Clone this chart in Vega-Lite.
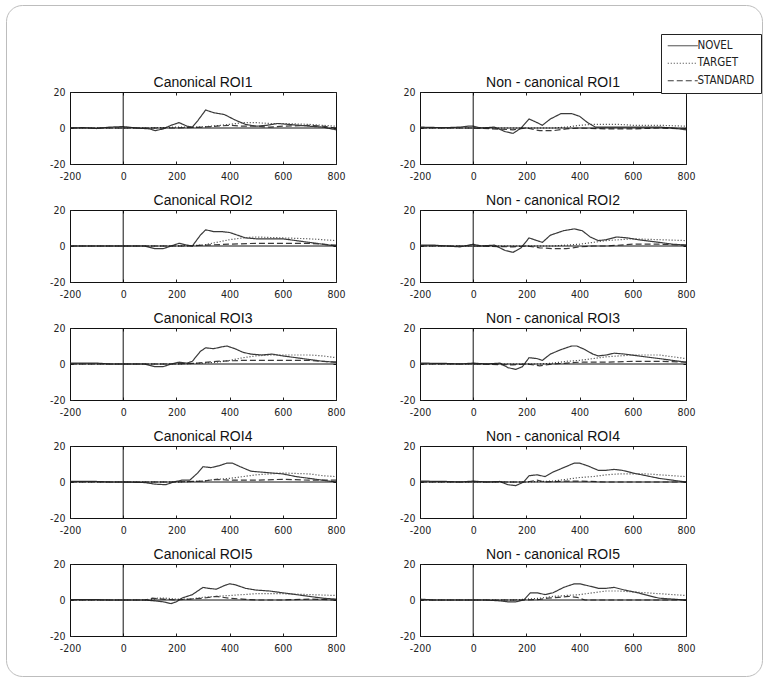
{
  "$schema": "https://vega.github.io/schema/vega-lite/v6.json",
  "padding": {"left": 5, "top": 4, "right": 0, "bottom": 0},
  "background": "white",
  "data": {"values": [
    {"p":"A1","s":"NOVEL","t":-200,"v":0},{"p":"A1","s":"NOVEL","t":-150,"v":0.2},{"p":"A1","s":"NOVEL","t":-100,"v":-0.3},{"p":"A1","s":"NOVEL","t":-50,"v":0.5},{"p":"A1","s":"NOVEL","t":0,"v":0.8},{"p":"A1","s":"NOVEL","t":50,"v":0},{"p":"A1","s":"NOVEL","t":100,"v":-0.5},{"p":"A1","s":"NOVEL","t":120,"v":-1.5},{"p":"A1","s":"NOVEL","t":150,"v":-0.5},{"p":"A1","s":"NOVEL","t":180,"v":1.5},{"p":"A1","s":"NOVEL","t":210,"v":3},{"p":"A1","s":"NOVEL","t":240,"v":1},{"p":"A1","s":"NOVEL","t":260,"v":0.5},{"p":"A1","s":"NOVEL","t":280,"v":4},{"p":"A1","s":"NOVEL","t":310,"v":10},{"p":"A1","s":"NOVEL","t":340,"v":8.5},{"p":"A1","s":"NOVEL","t":380,"v":7.5},{"p":"A1","s":"NOVEL","t":420,"v":4.5},{"p":"A1","s":"NOVEL","t":460,"v":2},{"p":"A1","s":"NOVEL","t":500,"v":1},{"p":"A1","s":"NOVEL","t":540,"v":1.5},{"p":"A1","s":"NOVEL","t":580,"v":2.5},{"p":"A1","s":"NOVEL","t":620,"v":2},{"p":"A1","s":"NOVEL","t":660,"v":1.5},{"p":"A1","s":"NOVEL","t":700,"v":1},{"p":"A1","s":"NOVEL","t":750,"v":0.5},{"p":"A1","s":"NOVEL","t":800,"v":-1},
    {"p":"A1","s":"TARGET","t":-200,"v":0},{"p":"A1","s":"TARGET","t":0,"v":0},{"p":"A1","s":"TARGET","t":100,"v":0},{"p":"A1","s":"TARGET","t":200,"v":0.5},{"p":"A1","s":"TARGET","t":280,"v":0.5},{"p":"A1","s":"TARGET","t":330,"v":1},{"p":"A1","s":"TARGET","t":400,"v":2},{"p":"A1","s":"TARGET","t":450,"v":3},{"p":"A1","s":"TARGET","t":500,"v":3},{"p":"A1","s":"TARGET","t":550,"v":2.5},{"p":"A1","s":"TARGET","t":600,"v":2.5},{"p":"A1","s":"TARGET","t":700,"v":2},{"p":"A1","s":"TARGET","t":750,"v":1.5},{"p":"A1","s":"TARGET","t":800,"v":1},
    {"p":"A1","s":"STANDARD","t":-200,"v":0},{"p":"A1","s":"STANDARD","t":100,"v":0},{"p":"A1","s":"STANDARD","t":200,"v":0},{"p":"A1","s":"STANDARD","t":300,"v":0.5},{"p":"A1","s":"STANDARD","t":400,"v":1.5},{"p":"A1","s":"STANDARD","t":450,"v":1},{"p":"A1","s":"STANDARD","t":500,"v":1},{"p":"A1","s":"STANDARD","t":550,"v":0.5},{"p":"A1","s":"STANDARD","t":600,"v":1},{"p":"A1","s":"STANDARD","t":700,"v":1.5},{"p":"A1","s":"STANDARD","t":750,"v":1},{"p":"A1","s":"STANDARD","t":800,"v":0},

    {"p":"B1","s":"NOVEL","t":-200,"v":0.5},{"p":"B1","s":"NOVEL","t":-150,"v":0.3},{"p":"B1","s":"NOVEL","t":-100,"v":0.2},{"p":"B1","s":"NOVEL","t":-50,"v":0.5},{"p":"B1","s":"NOVEL","t":-20,"v":1},{"p":"B1","s":"NOVEL","t":0,"v":1},{"p":"B1","s":"NOVEL","t":30,"v":0},{"p":"B1","s":"NOVEL","t":80,"v":0.5},{"p":"B1","s":"NOVEL","t":120,"v":-2},{"p":"B1","s":"NOVEL","t":150,"v":-3},{"p":"B1","s":"NOVEL","t":180,"v":0},{"p":"B1","s":"NOVEL","t":210,"v":5},{"p":"B1","s":"NOVEL","t":240,"v":3},{"p":"B1","s":"NOVEL","t":260,"v":1.5},{"p":"B1","s":"NOVEL","t":290,"v":5},{"p":"B1","s":"NOVEL","t":330,"v":8},{"p":"B1","s":"NOVEL","t":370,"v":8},{"p":"B1","s":"NOVEL","t":400,"v":6.5},{"p":"B1","s":"NOVEL","t":430,"v":3},{"p":"B1","s":"NOVEL","t":460,"v":0.5},{"p":"B1","s":"NOVEL","t":500,"v":0.5},{"p":"B1","s":"NOVEL","t":600,"v":0.5},{"p":"B1","s":"NOVEL","t":700,"v":0.5},{"p":"B1","s":"NOVEL","t":750,"v":0},{"p":"B1","s":"NOVEL","t":800,"v":-1},
    {"p":"B1","s":"TARGET","t":-200,"v":0},{"p":"B1","s":"TARGET","t":0,"v":0},{"p":"B1","s":"TARGET","t":100,"v":0},{"p":"B1","s":"TARGET","t":200,"v":0},{"p":"B1","s":"TARGET","t":300,"v":0},{"p":"B1","s":"TARGET","t":350,"v":0.5},{"p":"B1","s":"TARGET","t":400,"v":1.5},{"p":"B1","s":"TARGET","t":450,"v":2},{"p":"B1","s":"TARGET","t":500,"v":2},{"p":"B1","s":"TARGET","t":550,"v":2},{"p":"B1","s":"TARGET","t":600,"v":1.5},{"p":"B1","s":"TARGET","t":700,"v":1.5},{"p":"B1","s":"TARGET","t":800,"v":1},
    {"p":"B1","s":"STANDARD","t":-200,"v":0},{"p":"B1","s":"STANDARD","t":0,"v":0},{"p":"B1","s":"STANDARD","t":150,"v":-1},{"p":"B1","s":"STANDARD","t":200,"v":0},{"p":"B1","s":"STANDARD","t":250,"v":-1.5},{"p":"B1","s":"STANDARD","t":300,"v":-1.5},{"p":"B1","s":"STANDARD","t":350,"v":-0.5},{"p":"B1","s":"STANDARD","t":400,"v":0},{"p":"B1","s":"STANDARD","t":500,"v":-0.5},{"p":"B1","s":"STANDARD","t":600,"v":-0.5},{"p":"B1","s":"STANDARD","t":700,"v":0},{"p":"B1","s":"STANDARD","t":800,"v":-0.5},

    {"p":"A2","s":"NOVEL","t":-200,"v":0},{"p":"A2","s":"NOVEL","t":0,"v":0},{"p":"A2","s":"NOVEL","t":80,"v":0},{"p":"A2","s":"NOVEL","t":120,"v":-1.5},{"p":"A2","s":"NOVEL","t":150,"v":-1.5},{"p":"A2","s":"NOVEL","t":180,"v":0},{"p":"A2","s":"NOVEL","t":210,"v":1.5},{"p":"A2","s":"NOVEL","t":240,"v":0.5},{"p":"A2","s":"NOVEL","t":260,"v":0},{"p":"A2","s":"NOVEL","t":290,"v":6},{"p":"A2","s":"NOVEL","t":310,"v":9},{"p":"A2","s":"NOVEL","t":340,"v":8},{"p":"A2","s":"NOVEL","t":370,"v":8},{"p":"A2","s":"NOVEL","t":400,"v":7.5},{"p":"A2","s":"NOVEL","t":430,"v":6},{"p":"A2","s":"NOVEL","t":460,"v":4.5},{"p":"A2","s":"NOVEL","t":500,"v":4},{"p":"A2","s":"NOVEL","t":550,"v":4},{"p":"A2","s":"NOVEL","t":600,"v":4},{"p":"A2","s":"NOVEL","t":650,"v":3},{"p":"A2","s":"NOVEL","t":700,"v":2},{"p":"A2","s":"NOVEL","t":750,"v":1},{"p":"A2","s":"NOVEL","t":800,"v":0},
    {"p":"A2","s":"TARGET","t":-200,"v":0},{"p":"A2","s":"TARGET","t":0,"v":0},{"p":"A2","s":"TARGET","t":100,"v":0},{"p":"A2","s":"TARGET","t":200,"v":0},{"p":"A2","s":"TARGET","t":300,"v":0.5},{"p":"A2","s":"TARGET","t":350,"v":2},{"p":"A2","s":"TARGET","t":400,"v":3.5},{"p":"A2","s":"TARGET","t":450,"v":4.5},{"p":"A2","s":"TARGET","t":500,"v":5},{"p":"A2","s":"TARGET","t":600,"v":4.5},{"p":"A2","s":"TARGET","t":700,"v":4},{"p":"A2","s":"TARGET","t":750,"v":3.5},{"p":"A2","s":"TARGET","t":800,"v":3},
    {"p":"A2","s":"STANDARD","t":-200,"v":0},{"p":"A2","s":"STANDARD","t":100,"v":0},{"p":"A2","s":"STANDARD","t":250,"v":0},{"p":"A2","s":"STANDARD","t":300,"v":0.5},{"p":"A2","s":"STANDARD","t":400,"v":1},{"p":"A2","s":"STANDARD","t":500,"v":1.5},{"p":"A2","s":"STANDARD","t":600,"v":1.5},{"p":"A2","s":"STANDARD","t":700,"v":1.5},{"p":"A2","s":"STANDARD","t":800,"v":0.5},

    {"p":"B2","s":"NOVEL","t":-200,"v":0.5},{"p":"B2","s":"NOVEL","t":-150,"v":0.5},{"p":"B2","s":"NOVEL","t":-100,"v":0},{"p":"B2","s":"NOVEL","t":-50,"v":-0.5},{"p":"B2","s":"NOVEL","t":0,"v":1},{"p":"B2","s":"NOVEL","t":30,"v":0},{"p":"B2","s":"NOVEL","t":80,"v":0.5},{"p":"B2","s":"NOVEL","t":120,"v":-2.5},{"p":"B2","s":"NOVEL","t":150,"v":-3.5},{"p":"B2","s":"NOVEL","t":180,"v":-1},{"p":"B2","s":"NOVEL","t":210,"v":4.5},{"p":"B2","s":"NOVEL","t":240,"v":3},{"p":"B2","s":"NOVEL","t":260,"v":2},{"p":"B2","s":"NOVEL","t":290,"v":6},{"p":"B2","s":"NOVEL","t":340,"v":8.5},{"p":"B2","s":"NOVEL","t":380,"v":9.5},{"p":"B2","s":"NOVEL","t":410,"v":8.5},{"p":"B2","s":"NOVEL","t":440,"v":5},{"p":"B2","s":"NOVEL","t":470,"v":3},{"p":"B2","s":"NOVEL","t":500,"v":3.5},{"p":"B2","s":"NOVEL","t":540,"v":5},{"p":"B2","s":"NOVEL","t":580,"v":4.5},{"p":"B2","s":"NOVEL","t":620,"v":3.5},{"p":"B2","s":"NOVEL","t":700,"v":2},{"p":"B2","s":"NOVEL","t":750,"v":1},{"p":"B2","s":"NOVEL","t":800,"v":0.5},
    {"p":"B2","s":"TARGET","t":-200,"v":0},{"p":"B2","s":"TARGET","t":0,"v":0},{"p":"B2","s":"TARGET","t":200,"v":0},{"p":"B2","s":"TARGET","t":300,"v":0},{"p":"B2","s":"TARGET","t":350,"v":0.5},{"p":"B2","s":"TARGET","t":400,"v":1},{"p":"B2","s":"TARGET","t":450,"v":2},{"p":"B2","s":"TARGET","t":500,"v":3},{"p":"B2","s":"TARGET","t":550,"v":3.5},{"p":"B2","s":"TARGET","t":600,"v":4},{"p":"B2","s":"TARGET","t":700,"v":3.5},{"p":"B2","s":"TARGET","t":800,"v":3},
    {"p":"B2","s":"STANDARD","t":-200,"v":0},{"p":"B2","s":"STANDARD","t":0,"v":0},{"p":"B2","s":"STANDARD","t":150,"v":-0.5},{"p":"B2","s":"STANDARD","t":200,"v":0},{"p":"B2","s":"STANDARD","t":250,"v":-1},{"p":"B2","s":"STANDARD","t":300,"v":-1.5},{"p":"B2","s":"STANDARD","t":350,"v":-1.5},{"p":"B2","s":"STANDARD","t":400,"v":-0.5},{"p":"B2","s":"STANDARD","t":450,"v":0},{"p":"B2","s":"STANDARD","t":500,"v":0},{"p":"B2","s":"STANDARD","t":600,"v":1},{"p":"B2","s":"STANDARD","t":700,"v":1},{"p":"B2","s":"STANDARD","t":800,"v":0.5},

    {"p":"A3","s":"NOVEL","t":-200,"v":0.5},{"p":"A3","s":"NOVEL","t":-100,"v":0.5},{"p":"A3","s":"NOVEL","t":-50,"v":0},{"p":"A3","s":"NOVEL","t":0,"v":0},{"p":"A3","s":"NOVEL","t":80,"v":0},{"p":"A3","s":"NOVEL","t":120,"v":-1.5},{"p":"A3","s":"NOVEL","t":150,"v":-1.5},{"p":"A3","s":"NOVEL","t":180,"v":0},{"p":"A3","s":"NOVEL","t":210,"v":1},{"p":"A3","s":"NOVEL","t":240,"v":0.5},{"p":"A3","s":"NOVEL","t":260,"v":1.5},{"p":"A3","s":"NOVEL","t":290,"v":7},{"p":"A3","s":"NOVEL","t":310,"v":9},{"p":"A3","s":"NOVEL","t":340,"v":8.5},{"p":"A3","s":"NOVEL","t":370,"v":9.5},{"p":"A3","s":"NOVEL","t":390,"v":10},{"p":"A3","s":"NOVEL","t":420,"v":8.5},{"p":"A3","s":"NOVEL","t":450,"v":6.5},{"p":"A3","s":"NOVEL","t":480,"v":5.5},{"p":"A3","s":"NOVEL","t":520,"v":5},{"p":"A3","s":"NOVEL","t":560,"v":5.5},{"p":"A3","s":"NOVEL","t":600,"v":4.5},{"p":"A3","s":"NOVEL","t":650,"v":3.5},{"p":"A3","s":"NOVEL","t":700,"v":2.5},{"p":"A3","s":"NOVEL","t":750,"v":1.5},{"p":"A3","s":"NOVEL","t":800,"v":1},
    {"p":"A3","s":"TARGET","t":-200,"v":0},{"p":"A3","s":"TARGET","t":0,"v":0},{"p":"A3","s":"TARGET","t":200,"v":0},{"p":"A3","s":"TARGET","t":300,"v":0.5},{"p":"A3","s":"TARGET","t":350,"v":1},{"p":"A3","s":"TARGET","t":400,"v":2},{"p":"A3","s":"TARGET","t":450,"v":3.5},{"p":"A3","s":"TARGET","t":500,"v":4.5},{"p":"A3","s":"TARGET","t":550,"v":5},{"p":"A3","s":"TARGET","t":600,"v":5},{"p":"A3","s":"TARGET","t":650,"v":5},{"p":"A3","s":"TARGET","t":700,"v":5},{"p":"A3","s":"TARGET","t":750,"v":4.5},{"p":"A3","s":"TARGET","t":800,"v":3.5},
    {"p":"A3","s":"STANDARD","t":-200,"v":0},{"p":"A3","s":"STANDARD","t":100,"v":0},{"p":"A3","s":"STANDARD","t":200,"v":0},{"p":"A3","s":"STANDARD","t":280,"v":0.5},{"p":"A3","s":"STANDARD","t":350,"v":1.5},{"p":"A3","s":"STANDARD","t":450,"v":2},{"p":"A3","s":"STANDARD","t":550,"v":2},{"p":"A3","s":"STANDARD","t":650,"v":2},{"p":"A3","s":"STANDARD","t":700,"v":2},{"p":"A3","s":"STANDARD","t":750,"v":1.5},{"p":"A3","s":"STANDARD","t":800,"v":1},

    {"p":"B3","s":"NOVEL","t":-200,"v":0.5},{"p":"B3","s":"NOVEL","t":-100,"v":0.3},{"p":"B3","s":"NOVEL","t":-50,"v":0},{"p":"B3","s":"NOVEL","t":0,"v":0.5},{"p":"B3","s":"NOVEL","t":50,"v":0},{"p":"B3","s":"NOVEL","t":100,"v":0.5},{"p":"B3","s":"NOVEL","t":130,"v":-2},{"p":"B3","s":"NOVEL","t":160,"v":-3},{"p":"B3","s":"NOVEL","t":185,"v":-1.5},{"p":"B3","s":"NOVEL","t":210,"v":3.5},{"p":"B3","s":"NOVEL","t":240,"v":3},{"p":"B3","s":"NOVEL","t":260,"v":2},{"p":"B3","s":"NOVEL","t":290,"v":5.5},{"p":"B3","s":"NOVEL","t":330,"v":8},{"p":"B3","s":"NOVEL","t":370,"v":10},{"p":"B3","s":"NOVEL","t":390,"v":10},{"p":"B3","s":"NOVEL","t":420,"v":8},{"p":"B3","s":"NOVEL","t":450,"v":5.5},{"p":"B3","s":"NOVEL","t":470,"v":4.5},{"p":"B3","s":"NOVEL","t":500,"v":5},{"p":"B3","s":"NOVEL","t":530,"v":6},{"p":"B3","s":"NOVEL","t":570,"v":5.5},{"p":"B3","s":"NOVEL","t":620,"v":4.5},{"p":"B3","s":"NOVEL","t":700,"v":3},{"p":"B3","s":"NOVEL","t":750,"v":2},{"p":"B3","s":"NOVEL","t":800,"v":1},
    {"p":"B3","s":"TARGET","t":-200,"v":0},{"p":"B3","s":"TARGET","t":0,"v":0},{"p":"B3","s":"TARGET","t":200,"v":0},{"p":"B3","s":"TARGET","t":250,"v":0},{"p":"B3","s":"TARGET","t":300,"v":0.5},{"p":"B3","s":"TARGET","t":350,"v":1.5},{"p":"B3","s":"TARGET","t":400,"v":2},{"p":"B3","s":"TARGET","t":450,"v":3},{"p":"B3","s":"TARGET","t":500,"v":4},{"p":"B3","s":"TARGET","t":550,"v":4.5},{"p":"B3","s":"TARGET","t":600,"v":5},{"p":"B3","s":"TARGET","t":700,"v":5},{"p":"B3","s":"TARGET","t":750,"v":4},{"p":"B3","s":"TARGET","t":800,"v":3},
    {"p":"B3","s":"STANDARD","t":-200,"v":0},{"p":"B3","s":"STANDARD","t":0,"v":0},{"p":"B3","s":"STANDARD","t":150,"v":-0.5},{"p":"B3","s":"STANDARD","t":200,"v":0},{"p":"B3","s":"STANDARD","t":250,"v":-1},{"p":"B3","s":"STANDARD","t":300,"v":0},{"p":"B3","s":"STANDARD","t":350,"v":0.5},{"p":"B3","s":"STANDARD","t":400,"v":1},{"p":"B3","s":"STANDARD","t":500,"v":1},{"p":"B3","s":"STANDARD","t":600,"v":1.5},{"p":"B3","s":"STANDARD","t":700,"v":1.5},{"p":"B3","s":"STANDARD","t":800,"v":1},

    {"p":"A4","s":"NOVEL","t":-200,"v":0.3},{"p":"A4","s":"NOVEL","t":-100,"v":0.3},{"p":"A4","s":"NOVEL","t":-50,"v":0},{"p":"A4","s":"NOVEL","t":0,"v":0},{"p":"A4","s":"NOVEL","t":80,"v":-0.3},{"p":"A4","s":"NOVEL","t":120,"v":-1.2},{"p":"A4","s":"NOVEL","t":160,"v":-1.5},{"p":"A4","s":"NOVEL","t":190,"v":0},{"p":"A4","s":"NOVEL","t":220,"v":1},{"p":"A4","s":"NOVEL","t":250,"v":1},{"p":"A4","s":"NOVEL","t":280,"v":5},{"p":"A4","s":"NOVEL","t":300,"v":8.5},{"p":"A4","s":"NOVEL","t":330,"v":8},{"p":"A4","s":"NOVEL","t":360,"v":9},{"p":"A4","s":"NOVEL","t":390,"v":10.5},{"p":"A4","s":"NOVEL","t":410,"v":10.5},{"p":"A4","s":"NOVEL","t":440,"v":8.5},{"p":"A4","s":"NOVEL","t":480,"v":6},{"p":"A4","s":"NOVEL","t":520,"v":5.5},{"p":"A4","s":"NOVEL","t":560,"v":5},{"p":"A4","s":"NOVEL","t":600,"v":4.5},{"p":"A4","s":"NOVEL","t":650,"v":3},{"p":"A4","s":"NOVEL","t":700,"v":2},{"p":"A4","s":"NOVEL","t":750,"v":1},{"p":"A4","s":"NOVEL","t":800,"v":0},
    {"p":"A4","s":"TARGET","t":-200,"v":0},{"p":"A4","s":"TARGET","t":0,"v":0},{"p":"A4","s":"TARGET","t":200,"v":0},{"p":"A4","s":"TARGET","t":300,"v":0.5},{"p":"A4","s":"TARGET","t":350,"v":1.5},{"p":"A4","s":"TARGET","t":400,"v":2},{"p":"A4","s":"TARGET","t":450,"v":3},{"p":"A4","s":"TARGET","t":500,"v":4},{"p":"A4","s":"TARGET","t":550,"v":4.5},{"p":"A4","s":"TARGET","t":600,"v":5},{"p":"A4","s":"TARGET","t":700,"v":4.5},{"p":"A4","s":"TARGET","t":750,"v":3.5},{"p":"A4","s":"TARGET","t":800,"v":3},
    {"p":"A4","s":"STANDARD","t":-200,"v":0},{"p":"A4","s":"STANDARD","t":200,"v":0},{"p":"A4","s":"STANDARD","t":300,"v":0.5},{"p":"A4","s":"STANDARD","t":350,"v":1.5},{"p":"A4","s":"STANDARD","t":400,"v":1},{"p":"A4","s":"STANDARD","t":500,"v":1},{"p":"A4","s":"STANDARD","t":600,"v":1.5},{"p":"A4","s":"STANDARD","t":700,"v":1},{"p":"A4","s":"STANDARD","t":800,"v":1},

    {"p":"B4","s":"NOVEL","t":-200,"v":0.5},{"p":"B4","s":"NOVEL","t":-100,"v":0.3},{"p":"B4","s":"NOVEL","t":-50,"v":0},{"p":"B4","s":"NOVEL","t":0,"v":0.5},{"p":"B4","s":"NOVEL","t":50,"v":0},{"p":"B4","s":"NOVEL","t":100,"v":0.3},{"p":"B4","s":"NOVEL","t":130,"v":-1.5},{"p":"B4","s":"NOVEL","t":160,"v":-2},{"p":"B4","s":"NOVEL","t":190,"v":0},{"p":"B4","s":"NOVEL","t":210,"v":3.5},{"p":"B4","s":"NOVEL","t":240,"v":4},{"p":"B4","s":"NOVEL","t":270,"v":3},{"p":"B4","s":"NOVEL","t":300,"v":5.5},{"p":"B4","s":"NOVEL","t":340,"v":8},{"p":"B4","s":"NOVEL","t":380,"v":10.5},{"p":"B4","s":"NOVEL","t":400,"v":10.5},{"p":"B4","s":"NOVEL","t":430,"v":9},{"p":"B4","s":"NOVEL","t":470,"v":6.5},{"p":"B4","s":"NOVEL","t":500,"v":6.5},{"p":"B4","s":"NOVEL","t":530,"v":7},{"p":"B4","s":"NOVEL","t":560,"v":6.5},{"p":"B4","s":"NOVEL","t":600,"v":5},{"p":"B4","s":"NOVEL","t":650,"v":3.5},{"p":"B4","s":"NOVEL","t":700,"v":2},{"p":"B4","s":"NOVEL","t":750,"v":1},{"p":"B4","s":"NOVEL","t":800,"v":0},
    {"p":"B4","s":"TARGET","t":-200,"v":0},{"p":"B4","s":"TARGET","t":0,"v":0},{"p":"B4","s":"TARGET","t":200,"v":0},{"p":"B4","s":"TARGET","t":250,"v":0.3},{"p":"B4","s":"TARGET","t":300,"v":0.5},{"p":"B4","s":"TARGET","t":350,"v":1.5},{"p":"B4","s":"TARGET","t":400,"v":2.5},{"p":"B4","s":"TARGET","t":450,"v":3},{"p":"B4","s":"TARGET","t":500,"v":4},{"p":"B4","s":"TARGET","t":550,"v":4.5},{"p":"B4","s":"TARGET","t":600,"v":4.5},{"p":"B4","s":"TARGET","t":650,"v":4.5},{"p":"B4","s":"TARGET","t":700,"v":4},{"p":"B4","s":"TARGET","t":800,"v":3},
    {"p":"B4","s":"STANDARD","t":-200,"v":0},{"p":"B4","s":"STANDARD","t":0,"v":0},{"p":"B4","s":"STANDARD","t":150,"v":0},{"p":"B4","s":"STANDARD","t":200,"v":0},{"p":"B4","s":"STANDARD","t":240,"v":1},{"p":"B4","s":"STANDARD","t":270,"v":0},{"p":"B4","s":"STANDARD","t":350,"v":0.5},{"p":"B4","s":"STANDARD","t":400,"v":0.5},{"p":"B4","s":"STANDARD","t":500,"v":0},{"p":"B4","s":"STANDARD","t":600,"v":0},{"p":"B4","s":"STANDARD","t":700,"v":0},{"p":"B4","s":"STANDARD","t":800,"v":0},

    {"p":"A5","s":"NOVEL","t":-200,"v":0.2},{"p":"A5","s":"NOVEL","t":-100,"v":0.2},{"p":"A5","s":"NOVEL","t":-50,"v":0},{"p":"A5","s":"NOVEL","t":0,"v":0},{"p":"A5","s":"NOVEL","t":80,"v":0},{"p":"A5","s":"NOVEL","t":120,"v":-0.5},{"p":"A5","s":"NOVEL","t":150,"v":-1},{"p":"A5","s":"NOVEL","t":180,"v":-2},{"p":"A5","s":"NOVEL","t":200,"v":-1},{"p":"A5","s":"NOVEL","t":220,"v":1},{"p":"A5","s":"NOVEL","t":240,"v":2},{"p":"A5","s":"NOVEL","t":260,"v":3},{"p":"A5","s":"NOVEL","t":300,"v":7},{"p":"A5","s":"NOVEL","t":320,"v":6.5},{"p":"A5","s":"NOVEL","t":350,"v":6},{"p":"A5","s":"NOVEL","t":380,"v":8},{"p":"A5","s":"NOVEL","t":400,"v":9},{"p":"A5","s":"NOVEL","t":420,"v":8.5},{"p":"A5","s":"NOVEL","t":460,"v":6.5},{"p":"A5","s":"NOVEL","t":500,"v":5.5},{"p":"A5","s":"NOVEL","t":550,"v":5},{"p":"A5","s":"NOVEL","t":600,"v":4},{"p":"A5","s":"NOVEL","t":650,"v":3},{"p":"A5","s":"NOVEL","t":700,"v":2},{"p":"A5","s":"NOVEL","t":750,"v":1},{"p":"A5","s":"NOVEL","t":800,"v":0.5},
    {"p":"A5","s":"TARGET","t":-200,"v":0},{"p":"A5","s":"TARGET","t":0,"v":0},{"p":"A5","s":"TARGET","t":100,"v":0},{"p":"A5","s":"TARGET","t":130,"v":1},{"p":"A5","s":"TARGET","t":160,"v":1},{"p":"A5","s":"TARGET","t":200,"v":0.5},{"p":"A5","s":"TARGET","t":250,"v":0.5},{"p":"A5","s":"TARGET","t":300,"v":1.5},{"p":"A5","s":"TARGET","t":350,"v":2},{"p":"A5","s":"TARGET","t":400,"v":2.5},{"p":"A5","s":"TARGET","t":450,"v":3},{"p":"A5","s":"TARGET","t":500,"v":3.5},{"p":"A5","s":"TARGET","t":550,"v":3.5},{"p":"A5","s":"TARGET","t":600,"v":3.5},{"p":"A5","s":"TARGET","t":700,"v":3},{"p":"A5","s":"TARGET","t":800,"v":2.5},
    {"p":"A5","s":"STANDARD","t":-200,"v":0},{"p":"A5","s":"STANDARD","t":0,"v":0},{"p":"A5","s":"STANDARD","t":80,"v":0},{"p":"A5","s":"STANDARD","t":110,"v":1},{"p":"A5","s":"STANDARD","t":150,"v":0.5},{"p":"A5","s":"STANDARD","t":200,"v":0},{"p":"A5","s":"STANDARD","t":250,"v":0.5},{"p":"A5","s":"STANDARD","t":300,"v":1},{"p":"A5","s":"STANDARD","t":350,"v":2},{"p":"A5","s":"STANDARD","t":400,"v":1},{"p":"A5","s":"STANDARD","t":450,"v":0.5},{"p":"A5","s":"STANDARD","t":500,"v":0},{"p":"A5","s":"STANDARD","t":600,"v":0},{"p":"A5","s":"STANDARD","t":700,"v":0.5},{"p":"A5","s":"STANDARD","t":800,"v":0},

    {"p":"B5","s":"NOVEL","t":-200,"v":0.5},{"p":"B5","s":"NOVEL","t":-150,"v":0},{"p":"B5","s":"NOVEL","t":-100,"v":0},{"p":"B5","s":"NOVEL","t":-50,"v":0},{"p":"B5","s":"NOVEL","t":0,"v":0},{"p":"B5","s":"NOVEL","t":50,"v":0},{"p":"B5","s":"NOVEL","t":100,"v":-0.5},{"p":"B5","s":"NOVEL","t":130,"v":-1},{"p":"B5","s":"NOVEL","t":160,"v":-1},{"p":"B5","s":"NOVEL","t":190,"v":0},{"p":"B5","s":"NOVEL","t":215,"v":4},{"p":"B5","s":"NOVEL","t":240,"v":4},{"p":"B5","s":"NOVEL","t":270,"v":3},{"p":"B5","s":"NOVEL","t":300,"v":4},{"p":"B5","s":"NOVEL","t":340,"v":7},{"p":"B5","s":"NOVEL","t":380,"v":9},{"p":"B5","s":"NOVEL","t":400,"v":9},{"p":"B5","s":"NOVEL","t":430,"v":8},{"p":"B5","s":"NOVEL","t":470,"v":6.5},{"p":"B5","s":"NOVEL","t":500,"v":6.5},{"p":"B5","s":"NOVEL","t":530,"v":7},{"p":"B5","s":"NOVEL","t":570,"v":5.5},{"p":"B5","s":"NOVEL","t":620,"v":4},{"p":"B5","s":"NOVEL","t":670,"v":2},{"p":"B5","s":"NOVEL","t":700,"v":1},{"p":"B5","s":"NOVEL","t":750,"v":0.5},{"p":"B5","s":"NOVEL","t":800,"v":0},
    {"p":"B5","s":"TARGET","t":-200,"v":0},{"p":"B5","s":"TARGET","t":0,"v":0},{"p":"B5","s":"TARGET","t":150,"v":0},{"p":"B5","s":"TARGET","t":200,"v":0.5},{"p":"B5","s":"TARGET","t":250,"v":1},{"p":"B5","s":"TARGET","t":300,"v":2},{"p":"B5","s":"TARGET","t":350,"v":2.5},{"p":"B5","s":"TARGET","t":400,"v":3},{"p":"B5","s":"TARGET","t":450,"v":4},{"p":"B5","s":"TARGET","t":500,"v":5},{"p":"B5","s":"TARGET","t":550,"v":5},{"p":"B5","s":"TARGET","t":600,"v":4.5},{"p":"B5","s":"TARGET","t":650,"v":4},{"p":"B5","s":"TARGET","t":700,"v":3.5},{"p":"B5","s":"TARGET","t":800,"v":2.5},
    {"p":"B5","s":"STANDARD","t":-200,"v":0},{"p":"B5","s":"STANDARD","t":0,"v":0},{"p":"B5","s":"STANDARD","t":200,"v":0},{"p":"B5","s":"STANDARD","t":250,"v":0.3},{"p":"B5","s":"STANDARD","t":280,"v":1},{"p":"B5","s":"STANDARD","t":320,"v":1.5},{"p":"B5","s":"STANDARD","t":360,"v":2},{"p":"B5","s":"STANDARD","t":390,"v":1.5},{"p":"B5","s":"STANDARD","t":420,"v":0},{"p":"B5","s":"STANDARD","t":500,"v":0},{"p":"B5","s":"STANDARD","t":600,"v":0},{"p":"B5","s":"STANDARD","t":700,"v":0},{"p":"B5","s":"STANDARD","t":800,"v":0}
  ]},
  "columns": 2,
  "bounds": "flush",
  "spacing": {"row": 46, "column": 84},
  "concat": [
    {"title": "Canonical ROI1", "width": 266, "height": 72, "transform": [{"filter": "datum.p === 'A1'"}],
     "layer": [
      {"mark": {"type": "line", "strokeWidth": 1.2, "color": "#3a3a3a"}, "encoding": {"x": {"field": "t", "type": "quantitative", "scale": {"domain": [-200, 800], "nice": false, "zero": false}, "axis": {"orient": "bottom", "values": [-200, 0, 200, 400, 600, 800]}}, "y": {"field": "v", "type": "quantitative", "scale": {"domain": [-20, 20], "nice": false}, "axis": {"orient": "left", "values": [-20, 0, 20]}}, "strokeDash": {"field": "s", "type": "nominal", "scale": {"domain": ["NOVEL", "TARGET", "STANDARD"], "range": [[1, 0], [1, 2], [6, 3]]}, "legend": {"title": null, "orient": "none", "legendX": 591, "legendY": -58, "labelFont": "DejaVu Sans Condensed", "labelFontSize": 11.5, "labelLimit": 300}}}},
      {"mark": {"type": "rule", "color": "#111", "strokeWidth": 1}, "transform": [{"aggregate": [{"op": "count", "as": "n"}]}], "encoding": {"y": {"datum": 0, "type": "quantitative", "axis": {"orient": "right", "labels": false, "domain": false, "values": [-20, 0, 20]}}}},
      {"mark": {"type": "rule", "color": "#111", "strokeWidth": 1}, "transform": [{"aggregate": [{"op": "count", "as": "n"}]}], "encoding": {"x": {"datum": 0, "type": "quantitative", "axis": {"orient": "top", "labels": false, "domain": false, "values": [-200, 0, 200, 400, 600, 800]}}}},
      {"mark": {"type": "rule", "opacity": 0}, "transform": [{"aggregate": [{"op": "count", "as": "n"}]}], "encoding": {"y": {"datum": 0, "type": "quantitative", "axis": null}, "color": {"field": "n", "type": "quantitative", "scale": {"range": ["#ffffff", "#ffffff"]}, "legend": {"title": null, "orient": "none", "direction": "horizontal", "legendX": -64, "legendY": -87, "padding": 335, "gradientLength": 86, "gradientThickness": 0, "gradientStrokeWidth": 0, "labelExpr": "''", "labelFontSize": 1, "labelOffset": 0, "strokeColor": "#bdbdbd", "fillColor": "transparent", "cornerRadius": 16}}}}
     ], "resolve": {"axis": {"x": "independent", "y": "independent"}}},
    {"title": "Non - canonical ROI1", "width": 266, "height": 72, "transform": [{"filter": "datum.p === 'B1'"}],
     "layer": [
      {"mark": {"type": "line", "strokeWidth": 1.2, "color": "#3a3a3a"}, "encoding": {"x": {"field": "t", "type": "quantitative", "scale": {"domain": [-200, 800], "nice": false, "zero": false}, "axis": {"orient": "bottom", "values": [-200, 0, 200, 400, 600, 800]}}, "y": {"field": "v", "type": "quantitative", "scale": {"domain": [-20, 20], "nice": false}, "axis": {"orient": "left", "values": [-20, 0, 20]}}, "strokeDash": {"field": "s", "type": "nominal", "scale": {"domain": ["NOVEL", "TARGET", "STANDARD"], "range": [[1, 0], [1, 2], [6, 3]]}, "legend": {"title": null}}}},
      {"mark": {"type": "rule", "color": "#111", "strokeWidth": 1}, "transform": [{"aggregate": [{"op": "count", "as": "n"}]}], "encoding": {"y": {"datum": 0, "type": "quantitative", "axis": {"orient": "right", "labels": false, "domain": false, "values": [-20, 0, 20]}}}},
      {"mark": {"type": "rule", "color": "#111", "strokeWidth": 1}, "transform": [{"aggregate": [{"op": "count", "as": "n"}]}], "encoding": {"x": {"datum": 0, "type": "quantitative", "axis": {"orient": "top", "labels": false, "domain": false, "values": [-200, 0, 200, 400, 600, 800]}}}}
     ], "resolve": {"axis": {"x": "independent", "y": "independent"}}},
    {"title": "Canonical ROI2", "width": 266, "height": 72, "transform": [{"filter": "datum.p === 'A2'"}],
     "layer": [
      {"mark": {"type": "line", "strokeWidth": 1.2, "color": "#3a3a3a"}, "encoding": {"x": {"field": "t", "type": "quantitative", "scale": {"domain": [-200, 800], "nice": false, "zero": false}, "axis": {"orient": "bottom", "values": [-200, 0, 200, 400, 600, 800]}}, "y": {"field": "v", "type": "quantitative", "scale": {"domain": [-20, 20], "nice": false}, "axis": {"orient": "left", "values": [-20, 0, 20]}}, "strokeDash": {"field": "s", "type": "nominal", "scale": {"domain": ["NOVEL", "TARGET", "STANDARD"], "range": [[1, 0], [1, 2], [6, 3]]}, "legend": {"title": null}}}},
      {"mark": {"type": "rule", "color": "#111", "strokeWidth": 1}, "transform": [{"aggregate": [{"op": "count", "as": "n"}]}], "encoding": {"y": {"datum": 0, "type": "quantitative", "axis": {"orient": "right", "labels": false, "domain": false, "values": [-20, 0, 20]}}}},
      {"mark": {"type": "rule", "color": "#111", "strokeWidth": 1}, "transform": [{"aggregate": [{"op": "count", "as": "n"}]}], "encoding": {"x": {"datum": 0, "type": "quantitative", "axis": {"orient": "top", "labels": false, "domain": false, "values": [-200, 0, 200, 400, 600, 800]}}}}
     ], "resolve": {"axis": {"x": "independent", "y": "independent"}}},
    {"title": "Non - canonical ROI2", "width": 266, "height": 72, "transform": [{"filter": "datum.p === 'B2'"}],
     "layer": [
      {"mark": {"type": "line", "strokeWidth": 1.2, "color": "#3a3a3a"}, "encoding": {"x": {"field": "t", "type": "quantitative", "scale": {"domain": [-200, 800], "nice": false, "zero": false}, "axis": {"orient": "bottom", "values": [-200, 0, 200, 400, 600, 800]}}, "y": {"field": "v", "type": "quantitative", "scale": {"domain": [-20, 20], "nice": false}, "axis": {"orient": "left", "values": [-20, 0, 20]}}, "strokeDash": {"field": "s", "type": "nominal", "scale": {"domain": ["NOVEL", "TARGET", "STANDARD"], "range": [[1, 0], [1, 2], [6, 3]]}, "legend": {"title": null}}}},
      {"mark": {"type": "rule", "color": "#111", "strokeWidth": 1}, "transform": [{"aggregate": [{"op": "count", "as": "n"}]}], "encoding": {"y": {"datum": 0, "type": "quantitative", "axis": {"orient": "right", "labels": false, "domain": false, "values": [-20, 0, 20]}}}},
      {"mark": {"type": "rule", "color": "#111", "strokeWidth": 1}, "transform": [{"aggregate": [{"op": "count", "as": "n"}]}], "encoding": {"x": {"datum": 0, "type": "quantitative", "axis": {"orient": "top", "labels": false, "domain": false, "values": [-200, 0, 200, 400, 600, 800]}}}}
     ], "resolve": {"axis": {"x": "independent", "y": "independent"}}},
    {"title": "Canonical ROI3", "width": 266, "height": 72, "transform": [{"filter": "datum.p === 'A3'"}],
     "layer": [
      {"mark": {"type": "line", "strokeWidth": 1.2, "color": "#3a3a3a"}, "encoding": {"x": {"field": "t", "type": "quantitative", "scale": {"domain": [-200, 800], "nice": false, "zero": false}, "axis": {"orient": "bottom", "values": [-200, 0, 200, 400, 600, 800]}}, "y": {"field": "v", "type": "quantitative", "scale": {"domain": [-20, 20], "nice": false}, "axis": {"orient": "left", "values": [-20, 0, 20]}}, "strokeDash": {"field": "s", "type": "nominal", "scale": {"domain": ["NOVEL", "TARGET", "STANDARD"], "range": [[1, 0], [1, 2], [6, 3]]}, "legend": {"title": null}}}},
      {"mark": {"type": "rule", "color": "#111", "strokeWidth": 1}, "transform": [{"aggregate": [{"op": "count", "as": "n"}]}], "encoding": {"y": {"datum": 0, "type": "quantitative", "axis": {"orient": "right", "labels": false, "domain": false, "values": [-20, 0, 20]}}}},
      {"mark": {"type": "rule", "color": "#111", "strokeWidth": 1}, "transform": [{"aggregate": [{"op": "count", "as": "n"}]}], "encoding": {"x": {"datum": 0, "type": "quantitative", "axis": {"orient": "top", "labels": false, "domain": false, "values": [-200, 0, 200, 400, 600, 800]}}}}
     ], "resolve": {"axis": {"x": "independent", "y": "independent"}}},
    {"title": "Non - canonical ROI3", "width": 266, "height": 72, "transform": [{"filter": "datum.p === 'B3'"}],
     "layer": [
      {"mark": {"type": "line", "strokeWidth": 1.2, "color": "#3a3a3a"}, "encoding": {"x": {"field": "t", "type": "quantitative", "scale": {"domain": [-200, 800], "nice": false, "zero": false}, "axis": {"orient": "bottom", "values": [-200, 0, 200, 400, 600, 800]}}, "y": {"field": "v", "type": "quantitative", "scale": {"domain": [-20, 20], "nice": false}, "axis": {"orient": "left", "values": [-20, 0, 20]}}, "strokeDash": {"field": "s", "type": "nominal", "scale": {"domain": ["NOVEL", "TARGET", "STANDARD"], "range": [[1, 0], [1, 2], [6, 3]]}, "legend": {"title": null}}}},
      {"mark": {"type": "rule", "color": "#111", "strokeWidth": 1}, "transform": [{"aggregate": [{"op": "count", "as": "n"}]}], "encoding": {"y": {"datum": 0, "type": "quantitative", "axis": {"orient": "right", "labels": false, "domain": false, "values": [-20, 0, 20]}}}},
      {"mark": {"type": "rule", "color": "#111", "strokeWidth": 1}, "transform": [{"aggregate": [{"op": "count", "as": "n"}]}], "encoding": {"x": {"datum": 0, "type": "quantitative", "axis": {"orient": "top", "labels": false, "domain": false, "values": [-200, 0, 200, 400, 600, 800]}}}}
     ], "resolve": {"axis": {"x": "independent", "y": "independent"}}},
    {"title": "Canonical ROI4", "width": 266, "height": 72, "transform": [{"filter": "datum.p === 'A4'"}],
     "layer": [
      {"mark": {"type": "line", "strokeWidth": 1.2, "color": "#3a3a3a"}, "encoding": {"x": {"field": "t", "type": "quantitative", "scale": {"domain": [-200, 800], "nice": false, "zero": false}, "axis": {"orient": "bottom", "values": [-200, 0, 200, 400, 600, 800]}}, "y": {"field": "v", "type": "quantitative", "scale": {"domain": [-20, 20], "nice": false}, "axis": {"orient": "left", "values": [-20, 0, 20]}}, "strokeDash": {"field": "s", "type": "nominal", "scale": {"domain": ["NOVEL", "TARGET", "STANDARD"], "range": [[1, 0], [1, 2], [6, 3]]}, "legend": {"title": null}}}},
      {"mark": {"type": "rule", "color": "#111", "strokeWidth": 1}, "transform": [{"aggregate": [{"op": "count", "as": "n"}]}], "encoding": {"y": {"datum": 0, "type": "quantitative", "axis": {"orient": "right", "labels": false, "domain": false, "values": [-20, 0, 20]}}}},
      {"mark": {"type": "rule", "color": "#111", "strokeWidth": 1}, "transform": [{"aggregate": [{"op": "count", "as": "n"}]}], "encoding": {"x": {"datum": 0, "type": "quantitative", "axis": {"orient": "top", "labels": false, "domain": false, "values": [-200, 0, 200, 400, 600, 800]}}}}
     ], "resolve": {"axis": {"x": "independent", "y": "independent"}}},
    {"title": "Non - canonical ROI4", "width": 266, "height": 72, "transform": [{"filter": "datum.p === 'B4'"}],
     "layer": [
      {"mark": {"type": "line", "strokeWidth": 1.2, "color": "#3a3a3a"}, "encoding": {"x": {"field": "t", "type": "quantitative", "scale": {"domain": [-200, 800], "nice": false, "zero": false}, "axis": {"orient": "bottom", "values": [-200, 0, 200, 400, 600, 800]}}, "y": {"field": "v", "type": "quantitative", "scale": {"domain": [-20, 20], "nice": false}, "axis": {"orient": "left", "values": [-20, 0, 20]}}, "strokeDash": {"field": "s", "type": "nominal", "scale": {"domain": ["NOVEL", "TARGET", "STANDARD"], "range": [[1, 0], [1, 2], [6, 3]]}, "legend": {"title": null}}}},
      {"mark": {"type": "rule", "color": "#111", "strokeWidth": 1}, "transform": [{"aggregate": [{"op": "count", "as": "n"}]}], "encoding": {"y": {"datum": 0, "type": "quantitative", "axis": {"orient": "right", "labels": false, "domain": false, "values": [-20, 0, 20]}}}},
      {"mark": {"type": "rule", "color": "#111", "strokeWidth": 1}, "transform": [{"aggregate": [{"op": "count", "as": "n"}]}], "encoding": {"x": {"datum": 0, "type": "quantitative", "axis": {"orient": "top", "labels": false, "domain": false, "values": [-200, 0, 200, 400, 600, 800]}}}}
     ], "resolve": {"axis": {"x": "independent", "y": "independent"}}},
    {"title": "Canonical ROI5", "width": 266, "height": 72, "transform": [{"filter": "datum.p === 'A5'"}],
     "layer": [
      {"mark": {"type": "line", "strokeWidth": 1.2, "color": "#3a3a3a"}, "encoding": {"x": {"field": "t", "type": "quantitative", "scale": {"domain": [-200, 800], "nice": false, "zero": false}, "axis": {"orient": "bottom", "values": [-200, 0, 200, 400, 600, 800]}}, "y": {"field": "v", "type": "quantitative", "scale": {"domain": [-20, 20], "nice": false}, "axis": {"orient": "left", "values": [-20, 0, 20]}}, "strokeDash": {"field": "s", "type": "nominal", "scale": {"domain": ["NOVEL", "TARGET", "STANDARD"], "range": [[1, 0], [1, 2], [6, 3]]}, "legend": {"title": null}}}},
      {"mark": {"type": "rule", "color": "#111", "strokeWidth": 1}, "transform": [{"aggregate": [{"op": "count", "as": "n"}]}], "encoding": {"y": {"datum": 0, "type": "quantitative", "axis": {"orient": "right", "labels": false, "domain": false, "values": [-20, 0, 20]}}}},
      {"mark": {"type": "rule", "color": "#111", "strokeWidth": 1}, "transform": [{"aggregate": [{"op": "count", "as": "n"}]}], "encoding": {"x": {"datum": 0, "type": "quantitative", "axis": {"orient": "top", "labels": false, "domain": false, "values": [-200, 0, 200, 400, 600, 800]}}}}
     ], "resolve": {"axis": {"x": "independent", "y": "independent"}}},
    {"title": "Non - canonical ROI5", "width": 266, "height": 72, "transform": [{"filter": "datum.p === 'B5'"}],
     "layer": [
      {"mark": {"type": "line", "strokeWidth": 1.2, "color": "#3a3a3a"}, "encoding": {"x": {"field": "t", "type": "quantitative", "scale": {"domain": [-200, 800], "nice": false, "zero": false}, "axis": {"orient": "bottom", "values": [-200, 0, 200, 400, 600, 800]}}, "y": {"field": "v", "type": "quantitative", "scale": {"domain": [-20, 20], "nice": false}, "axis": {"orient": "left", "values": [-20, 0, 20]}}, "strokeDash": {"field": "s", "type": "nominal", "scale": {"domain": ["NOVEL", "TARGET", "STANDARD"], "range": [[1, 0], [1, 2], [6, 3]]}, "legend": {"title": null}}}},
      {"mark": {"type": "rule", "color": "#111", "strokeWidth": 1}, "transform": [{"aggregate": [{"op": "count", "as": "n"}]}], "encoding": {"y": {"datum": 0, "type": "quantitative", "axis": {"orient": "right", "labels": false, "domain": false, "values": [-20, 0, 20]}}}},
      {"mark": {"type": "rule", "color": "#111", "strokeWidth": 1}, "transform": [{"aggregate": [{"op": "count", "as": "n"}]}], "encoding": {"x": {"datum": 0, "type": "quantitative", "axis": {"orient": "top", "labels": false, "domain": false, "values": [-200, 0, 200, 400, 600, 800]}}}}
     ], "resolve": {"axis": {"x": "independent", "y": "independent"}}}
  ],
  "config": {
    "view": {"stroke": "#111", "strokeWidth": 1},
    "axis": {"grid": false, "title": null, "labelFont": "DejaVu Sans Condensed", "labelFontSize": 10.5, "labelColor": "#222", "tickColor": "#222", "domainColor": "#111", "tickSize": -3, "labelFlush": false, "labelOverlap": false, "labelExpr": "datum.value + ''"},
    "axisX": {"labelPadding": 10},
    "axisY": {"labelPadding": 8},
    "title": {"font": "Liberation Sans", "fontSize": 14, "fontWeight": "normal", "color": "#111", "offset": -3, "frame": "group", "baseline": "alphabetic", "anchor": "middle"},
    "legend": {"orient": "none", "strokeColor": "#222", "fillColor": "white", "padding": 6, "symbolType": "M-1,0H5M16,0", "symbolSize": 100, "symbolStrokeWidth": 1, "labelOffset": 19, "rowPadding": 4.5, "labelColor": "#222", "cornerRadius": 0}
  }
}
